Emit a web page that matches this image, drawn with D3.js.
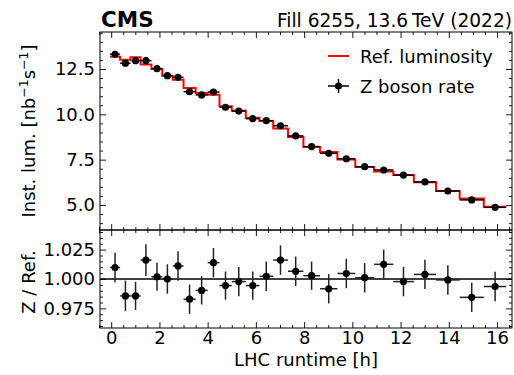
<!DOCTYPE html>
<html>
<head>
<meta charset="utf-8">
<script src="https://cdn.jsdelivr.net/npm/d3@7"></script>
<style>
  body { margin: 0; background: #fff; }
  text { font-family: "DejaVu Sans", sans-serif; fill: #000; }
</style>
</head>
<body>
<svg width="514" height="375"></svg>
<script>
// bin edges of the LHC runtime [h]
let binEdges = [-0.05, 0.37, 0.8, 1.22, 1.67, 2.12, 2.55, 3.0, 3.5, 4.0, 4.49, 5.0, 5.58, 6.15, 6.72,
    7.33, 7.97, 8.66, 9.38, 10.12, 10.9, 11.7, 12.55, 13.47, 14.45, 15.45, 16.38]
let hours = [0.16, 0.59, 1.01, 1.44, 1.9, 2.33, 2.77, 3.25, 3.75, 4.24, 4.74, 5.29, 5.87, 6.43, 7.02,
    7.65, 8.31, 9.02, 9.75, 10.51, 11.3, 12.12, 13.01, 13.96, 14.95, 15.92]
let zRate = [13.31, 12.82, 12.96, 12.96, 12.52, 12.13, 12.04, 11.25, 11.07, 11.23, 10.39, 10.18, 9.76,
    9.65, 9.37, 8.81, 8.22, 7.85, 7.55, 7.11, 6.93, 6.65, 6.27, 5.77, 5.28, 4.87]
let zErr = [0.16, 0.16, 0.16, 0.16, 0.15, 0.15, 0.15, 0.14, 0.14, 0.14, 0.13, 0.13, 0.12, 0.12, 0.12,
    0.11, 0.10, 0.10, 0.09, 0.09, 0.09, 0.08, 0.08, 0.07, 0.07, 0.06]
let refLumi = [13.18, 13.01, 13.15, 12.75, 12.50, 12.13, 11.91, 11.45, 11.18, 11.08, 10.45, 10.20, 9.81,
    9.63, 9.22, 8.75, 8.20, 7.92, 7.51, 7.10, 6.84, 6.66, 6.25, 5.77, 5.36, 4.90]
let ratio = [1.0098, 0.9856, 0.9856, 1.0161, 1.0019, 1.0000, 1.0111, 0.9828, 0.9903, 1.0139, 0.9944,
    0.9978, 0.9944, 1.0023, 1.0161, 1.0066, 1.0028, 0.9917, 1.0047, 1.0011, 1.0125, 0.9978, 1.0039,
    0.9992, 0.9844, 0.9936]
let ratioErr = [0.0125, 0.013, 0.012, 0.0135, 0.012, 0.0125, 0.0125, 0.0125, 0.012, 0.0125, 0.012,
    0.0125, 0.012, 0.0125, 0.0125, 0.0125, 0.012, 0.0125, 0.0125, 0.0125, 0.0125, 0.0125, 0.0125,
    0.0125, 0.0125, 0.0125]

let xTicks = [0, 2, 4, 6, 8, 10, 12, 14, 16]
let lumTicks = [5.0, 7.5, 10.0, 12.5]
let ratioTicks = [0.975, 1.000, 1.025]

let left = 100, right = 512, top1 = 32, bot1 = 230, top2 = 230, bot2 = 328

let svg = d3.select("svg")
svg.append("rect").attr("width", 514).attr("height", 375).attr("fill", "#fff")

let x = d3.scaleLinear().domain([-0.464, 16.62]).range([left, right])
let y = d3.scaleLinear().domain([3.62, 14.54]).range([bot1, top1])
let y2 = d3.scaleLinear().domain([0.9583, 1.0417]).range([bot2, top2])

let data = hours.map((h, i) => ({
    h: h, lo: binEdges[i], hi: binEdges[i + 1],
    z: zRate[i], zErr: zErr[i], ref: refLumi[i], r: ratio[i], rErr: ratioErr[i]
}))

let xMinor = d3.range(-0.5, 16.6, 0.5).filter(v => v % 2 !== 0)
let lumMinor = d3.range(4.0, 14.6, 0.5).filter(v => v % 2.5 !== 0)
let ratioMinor = d3.range(0.960, 1.041, 0.005).filter(v => Math.abs(v * 1000 % 25) > 0.5 && Math.abs(v * 1000 % 25 - 25) > 0.5)

function styleAxis(g) {
    g.select(".domain").remove()
    g.selectAll("line").attr("stroke", "#000").attr("stroke-width", 0.9)
    g.selectAll("text").style("font-size", "18px").style("font-family", "DejaVu Sans")
}

function addAxes(yScale, yt, ymin, yfmt, yTop, yBot, showX) {
    svg.append("g").attr("transform", "translate(0," + yBot + ")")
        .call(d3.axisBottom(x).tickValues(xTicks).tickSize(-6).tickPadding(3)
            .tickFormat(showX ? d3.format("d") : ""))
        .call(styleAxis)
    svg.append("g").attr("transform", "translate(0," + yBot + ")")
        .call(d3.axisBottom(x).tickValues(xMinor).tickSize(-3).tickFormat(""))
        .call(styleAxis)
    svg.append("g").attr("transform", "translate(0," + yTop + ")")
        .call(d3.axisTop(x).tickValues(xTicks).tickSize(-6).tickFormat(""))
        .call(styleAxis)
    svg.append("g").attr("transform", "translate(0," + yTop + ")")
        .call(d3.axisTop(x).tickValues(xMinor).tickSize(-3).tickFormat(""))
        .call(styleAxis)
    svg.append("g").attr("transform", "translate(" + left + ",0)")
        .call(d3.axisLeft(yScale).tickValues(yt).tickSize(-6).tickPadding(5).tickFormat(d3.format(yfmt)))
        .call(styleAxis)
    svg.append("g").attr("transform", "translate(" + left + ",0)")
        .call(d3.axisLeft(yScale).tickValues(ymin).tickSize(-3).tickFormat(""))
        .call(styleAxis)
    svg.append("g").attr("transform", "translate(" + right + ",0)")
        .call(d3.axisRight(yScale).tickValues(yt).tickSize(-6).tickFormat(""))
        .call(styleAxis)
    svg.append("g").attr("transform", "translate(" + right + ",0)")
        .call(d3.axisRight(yScale).tickValues(ymin).tickSize(-3).tickFormat(""))
        .call(styleAxis)
    svg.append("rect")
        .attr("x", left).attr("y", yTop)
        .attr("width", right - left).attr("height", yBot - yTop)
        .attr("fill", "none").attr("stroke", "#000").attr("stroke-width", 1)
}

// ---- top panel ----
let stepPts = data.map(d => [d.lo, d.ref]).concat([[binEdges[binEdges.length - 1], refLumi[refLumi.length - 1]]])
let step = d3.line().curve(d3.curveStepAfter)
    .x(d => x(d[0])).y(d => y(d[1]))

svg.append("path").datum(stepPts)
    .attr("d", step)
    .attr("fill", "none").attr("stroke", "#ff0000").attr("stroke-width", 2)

let topG = svg.append("g")
topG.selectAll(".xe").data(data).join("line")
    .attr("x1", d => x(d.lo)).attr("x2", d => x(d.hi))
    .attr("y1", d => y(d.z)).attr("y2", d => y(d.z))
    .attr("stroke", "#000").attr("stroke-width", 1.5)
topG.selectAll(".ye").data(data).join("line")
    .attr("x1", d => x(d.h)).attr("x2", d => x(d.h))
    .attr("y1", d => y(d.z - d.zErr)).attr("y2", d => y(d.z + d.zErr))
    .attr("stroke", "#000").attr("stroke-width", 1.5)
topG.selectAll("circle").data(data).join("circle")
    .attr("cx", d => x(d.h)).attr("cy", d => y(d.z)).attr("r", 3.6)
    .attr("fill", "#000")

addAxes(y, lumTicks, lumMinor, ".1f", top1, bot1, false)

// legend
let lg = svg.append("g")
lg.append("line").attr("x1", 328).attr("x2", 349).attr("y1", 56).attr("y2", 56)
    .attr("stroke", "#ff0000").attr("stroke-width", 2)
lg.append("text").attr("x", 360).attr("y", 62.5).style("font-size", "18px").text("Ref. luminosity")
lg.append("line").attr("x1", 328).attr("x2", 349).attr("y1", 86).attr("y2", 86)
    .attr("stroke", "#000").attr("stroke-width", 1.5)
lg.append("line").attr("x1", 338.5).attr("x2", 338.5).attr("y1", 79).attr("y2", 93)
    .attr("stroke", "#000").attr("stroke-width", 1.5)
lg.append("circle").attr("cx", 338.5).attr("cy", 86).attr("r", 3.6).attr("fill", "#000")
lg.append("text").attr("x", 360).attr("y", 92.5).style("font-size", "18px").text("Z boson rate")

// ---- bottom panel ----
svg.append("line")
    .attr("x1", left).attr("x2", right).attr("y1", y2(1)).attr("y2", y2(1))
    .attr("stroke", "#000").attr("stroke-width", 1.3)

let botG = svg.append("g")
botG.selectAll(".xe").data(data).join("line")
    .attr("x1", d => x(d.lo)).attr("x2", d => x(d.hi))
    .attr("y1", d => y2(d.r)).attr("y2", d => y2(d.r))
    .attr("stroke", "#222").attr("stroke-width", 1.5)
botG.selectAll(".ye").data(data).join("line")
    .attr("x1", d => x(d.h)).attr("x2", d => x(d.h))
    .attr("y1", d => y2(d.r - d.rErr)).attr("y2", d => y2(d.r + d.rErr))
    .attr("stroke", "#222").attr("stroke-width", 1.5)
botG.selectAll("circle").data(data).join("circle")
    .attr("cx", d => x(d.h)).attr("cy", d => y2(d.r)).attr("r", 3.6)
    .attr("fill", "#000")

addAxes(y2, ratioTicks, ratioMinor, ".3f", top2, bot2, true)

// ---- titles ----
svg.append("text").attr("x", left + 1).attr("y", 27)
    .style("font-size", "21.5px").style("font-weight", "bold").text("CMS")
svg.append("text").attr("x", right).attr("y", 27).attr("text-anchor", "end")
    .style("font-size", "18.6px").text("Fill 6255, 13.6\u2009TeV (2022)")

svg.append("text").attr("x", (left + right) / 2).attr("y", 366).attr("text-anchor", "middle")
    .style("font-size", "18px").text("LHC runtime [h]")

let yl = svg.append("text")
    .attr("transform", "translate(35," + ((top1 + bot1) / 2) + ") rotate(-90)")
    .attr("text-anchor", "middle").style("font-size", "18px")
yl.append("tspan").text("Inst. lum. [nb")
yl.append("tspan").attr("dy", -7).style("font-size", "12.5px").text("\u22121")
yl.append("tspan").attr("dy", 7).text("s")
yl.append("tspan").attr("dy", -7).style("font-size", "12.5px").text("\u22121")
yl.append("tspan").attr("dy", 7).text("]")

svg.append("text")
    .attr("transform", "translate(35," + ((top2 + bot2) / 2 + 3) + ") rotate(-90)")
    .attr("text-anchor", "middle").style("font-size", "18px").text("Z / Ref.")
</script>
</body>
</html>
